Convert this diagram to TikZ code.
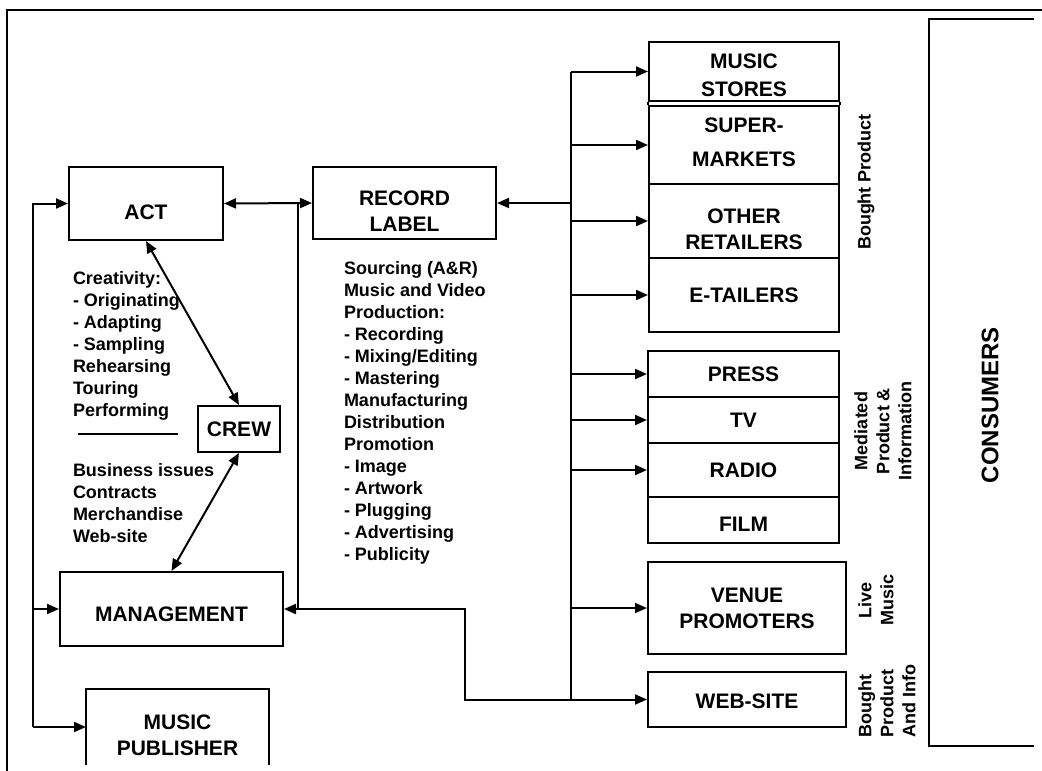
\documentclass[tikz,border=0pt]{standalone}
\usepackage{fontspec}
\setmainfont{Liberation Sans}
\usetikzlibrary{arrows.meta}
\begin{document}
\begin{tikzpicture}[x=1pt,y=-1pt,
  line width=2pt,
  box/.style={draw, line width=2pt, rectangle, inner sep=0pt, align=center, font=\bfseries\fontsize{21}{26}\selectfont},
  boxtext/.style={inner sep=0pt, align=center, font=\bfseries\fontsize{21}{26}\selectfont},
  blocktext/.style={align=left, anchor=west, inner sep=0pt, font=\bfseries\fontsize{18}{22}\selectfont},
  sidetext/.style={rotate=90, align=center, inner sep=0pt, font=\bfseries\fontsize{18}{22}\selectfont},
  arr/.style={-{Triangle[length=12pt,width=10pt]}},
  arrs/.style={{Triangle[length=12pt,width=10pt]}-{Triangle[length=12pt,width=10pt]}},
]
\fill[white] (0,0) rectangle (1042,771);
\useasboundingbox (0,0) rectangle (1042,771);
\clip (0,0) rectangle (1042,771);

% frame
\draw[line width=2.8pt] (7,771) -- (7,10) -- (1042,10);

% left side boxes
\node[box, minimum width=154pt, minimum height=73pt] (act) at (146,203.5) {};
\node[boxtext] (actlbl) at (146,212) {ACT};
\node[box, minimum width=183pt, minimum height=72pt] (rl) at (404.5,203) {};
\node[boxtext] (rllbl) at (404.5,211) {RECORD\\LABEL};
\node[box, minimum width=82pt, minimum height=46pt] (crew) at (239,429) {CREW};
\node[box, minimum width=223pt, minimum height=74pt] (mgmt) at (171.5,609) {};
\node[boxtext] (mgmtlbl) at (171.5,614.5) {MANAGEMENT};
\node[minimum width=181pt, minimum height=74pt, inner sep=0pt] (pub) at (177.5,727) {};
\draw (pub.south west) -- (pub.north west) -- (pub.north east) -- (pub.south east);
\node[boxtext] (publbl) at (177.5,735) {MUSIC\\PUBLISHER};

% retailers
\node[box, minimum width=190pt, minimum height=59pt] (ms) at (744,71.5) {};
\node[boxtext] (mslbl) at (744,75.5) {MUSIC\\[2pt]STORES};
\node[box, minimum width=190pt, minimum height=78pt] (sm) at (744,145) {};
\node[boxtext] (smlbl) at (744,142) {SUPER-\\[8pt]MARKETS};
\draw (ms.south west) -- (sm.north west);
\draw (ms.south east) -- (sm.north east);
\node[box, minimum width=190pt, minimum height=74pt] (or) at (744,221) {};
\node[boxtext] (orlbl) at (744,229.5) {OTHER\\RETAILERS};
\node[box, minimum width=190pt, minimum height=74pt] (et) at (744,295) {E-TAILERS};

% media
\node[box, minimum width=191pt, minimum height=46pt] (press) at (743.5,374) {PRESS};
\node[box, minimum width=191pt, minimum height=46pt] (tv) at (743.5,420) {TV};
\node[box, minimum width=191pt, minimum height=54pt] (radio) at (743.5,470) {RADIO};
\node[box, minimum width=191pt, minimum height=46pt] (film) at (743.5,520) {};
\node[boxtext] (filmlbl) at (743.5,524) {FILM};

% live / web
\node[box, minimum width=198pt, minimum height=92pt] (venue) at (747,608) {VENUE\\PROMOTERS};
\node[box, minimum width=198pt, minimum height=55pt] (web) at (747,699.5) {};
\node[boxtext] (weblbl) at (747,701.5) {WEB-SITE};

% consumers
\node[minimum width=103pt, minimum height=725pt, inner sep=0pt] (cons) at (981.5,382.5) {};
\draw (cons.north east) -- (cons.north west) -- (cons.south west) -- (cons.south east);
\node[sidetext, font=\bfseries\fontsize{24}{28}\selectfont] (conslbl) at (990,405) {CONSUMERS};

% side labels
\node[sidetext] (bp) at (866,182) {Bought Product};
\node[sidetext] (med) at (883,431) {Mediated\\Product \&\\Information};
\node[sidetext] (live) at (876,600) {Live\\Music};
\node[sidetext, align=left] (bpi) at (887,701) {Bought\\Product\\And Info};

% text blocks
\node[blocktext] (creat) at (72,346) {Creativity:\\- Originating\\- Adapting\\- Sampling\\Rehearsing\\Touring\\Performing};
\draw (78,434) -- (178,434);
\node[blocktext] (biz) at (72,503) {Business issues\\Contracts\\Merchandise\\Web-site};
\node[blocktext] (rltext) at (343,413) {Sourcing (A\&R)\\Music and Video\\Production:\\- Recording\\- Mixing/Editing\\- Mastering\\Manufacturing\\Distribution\\Promotion\\- Image\\- Artwork\\- Plugging\\- Advertising\\- Publicity};

% routing coordinates
\coordinate (trunk) at (571,0);
\coordinate (lx) at (33,0);
\coordinate (jx) at (298,0);
\coordinate (bx) at (465,0);

% connectors
\draw[arrs] (act.east) -- (rl.west);
\draw (act.east -| jx) -- (mgmt.east -| jx);
\draw[arr] (web.west -| trunk) -| (bx |- mgmt.east) -- (mgmt.east);
\draw (ms.west -| trunk) -- (web.west -| trunk);
\draw[arr] (rl.east -| trunk) -- (rl.east);
\foreach \b in {ms,sm,or,et,press,tv,radio,venue,web}
  \draw[arr] (\b.west -| trunk) -- (\b.west);

\draw[arr] (pub.west -| lx) |- (act.west);
\draw[arr] (mgmt.west -| lx) -- (mgmt.west);
\draw[arr] (pub.west -| lx) -- (pub.west);

\draw[arrs] (act.south) -- (crew.north);
\draw[arrs] (crew.south) -- (mgmt.north);
\end{tikzpicture}
\end{document}
